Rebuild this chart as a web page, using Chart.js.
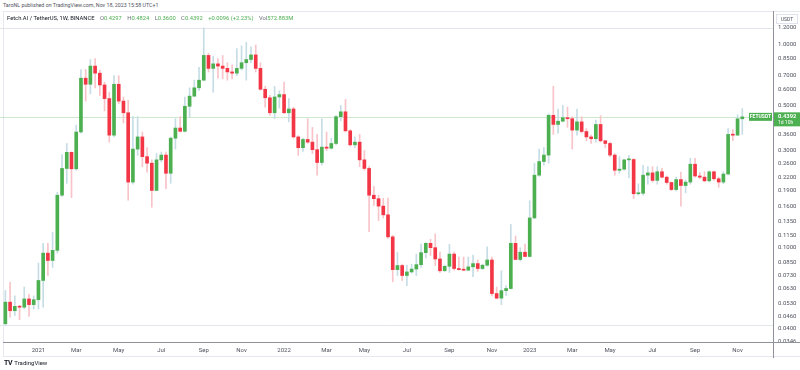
<!DOCTYPE html>
<html>
<head>
<meta charset="utf-8">
<script src="https://cdn.jsdelivr.net/npm/chart.js@4.4.1/dist/chart.umd.min.js"></script>
<style>
    html, body { margin: 0; padding: 0; background: #fff; }
    body { width: 800px; height: 370px; position: relative; overflow: hidden; font-family: Roboto, "Liberation Sans", sans-serif; }
    #hdr { position: absolute; left: 3px; top: 1.5px; font-size: 5.3px; color: #50535e; white-space: nowrap; }
    #frame { position: absolute; left: 3px; top: 11px; width: 797px; height: 346px; border: 1px solid #e6e8ee; border-right: none; box-sizing: border-box; }
    #legend { position: absolute; left: 7px; top: 15px; font-size: 5.8px; color: #131722; white-space: nowrap; }
    #legend .k { color: #6a6d78; margin-left: 4px; }
    #legend .v { color: #4caf50; }
    #logo { position: absolute; left: 4px; top: 359px; font-size: 6px; color: #131722; white-space: nowrap; }
    #logo b { font-size: 7px; letter-spacing: -0.5px; margin-right: 1px; }
    canvas { position: absolute; left: 0; top: 0; }
</style>
</head>
<body>
<div id="hdr">TaroNL published on TradingView.com, Nov 18, 2023 15:58 UTC+1</div>
<div id="frame"></div>
<canvas id="chart" width="800" height="370"></canvas>
<div id="legend">
    <span>Fetch.AI / TetherUS, 1W, BINANCE</span>
    <span class="k">O</span><span class="v" id="lgO"></span>
    <span class="k">H</span><span class="v" id="lgH"></span>
    <span class="k">L</span><span class="v" id="lgL"></span>
    <span class="k">C</span><span class="v" id="lgC"></span>
    <span class="v" id="lgChg" style="margin-left:4px"></span>
    <span class="k">Vol</span><span class="v" id="lgVol"></span>
</div>
<div id="logo"><b>TV</b> TradingView</div>
<script>
// weekly FET/USDT candles, first week starts Mon 16 Nov 2020
const FIRST_WEEK = Date.UTC(2020, 10, 16);
const FUTURE_WEEKS = 6;

const opens = [
    0.0423, 0.054, 0.049, 0.0515, 0.051, 0.056, 0.0525, 0.0555, 0.069, 0.094,
    0.0865, 0.097, 0.181, 0.245, 0.294, 0.244, 0.37, 0.68, 0.635, 0.78,
    0.72, 0.63, 0.54, 0.357, 0.635, 0.525, 0.46, 0.21, 0.305, 0.35,
    0.28, 0.26, 0.191, 0.27, 0.285, 0.232, 0.345, 0.387, 0.373, 0.495,
    0.555, 0.61, 0.665, 0.88, 0.76, 0.80, 0.78, 0.76, 0.73, 0.72,
    0.76, 0.81, 0.84, 0.885, 0.76, 0.60, 0.545, 0.46, 0.55, 0.565,
    0.46, 0.48, 0.35, 0.31, 0.34, 0.33, 0.303, 0.262, 0.312, 0.308,
    0.325, 0.44, 0.465, 0.375, 0.32, 0.33, 0.27, 0.245, 0.181, 0.174,
    0.16, 0.145, 0.113, 0.078, 0.0817, 0.073, 0.076, 0.0785, 0.0825, 0.0945,
    0.105, 0.10, 0.088, 0.077, 0.081, 0.093, 0.079, 0.078, 0.0775, 0.0805,
    0.0835, 0.079, 0.082, 0.087, 0.0595, 0.0565, 0.0615, 0.063, 0.105, 0.0875,
    0.095, 0.0905, 0.14, 0.227, 0.265, 0.285, 0.447, 0.403, 0.418, 0.435,
    0.43, 0.378, 0.415, 0.372, 0.35, 0.343, 0.403, 0.335, 0.325, 0.285,
    0.24, 0.243, 0.27, 0.271, 0.184, 0.185, 0.227, 0.233, 0.214, 0.236,
    0.222, 0.209, 0.193, 0.216, 0.202, 0.21, 0.257, 0.225, 0.222, 0.213,
    0.236, 0.218, 0.21, 0.23, 0.36, 0.357, 0.4297,
];
const highs = [
    0.0616, 0.0675, 0.058, 0.052, 0.064, 0.059, 0.058, 0.084, 0.105, 0.105,
    0.119, 0.187, 0.287, 0.325, 0.296, 0.40, 0.75, 0.75, 0.84, 0.85,
    0.745, 0.65, 0.58, 0.70, 0.70, 0.55, 0.53, 0.44, 0.44, 0.37,
    0.31, 0.27, 0.29, 0.295, 0.295, 0.35, 0.43, 0.44, 0.55, 0.61,
    0.665, 0.77, 1.2, 0.90, 0.87, 0.85, 0.88, 0.81, 0.79, 0.95,
    0.98, 1.02, 0.97, 0.99, 0.81, 0.62, 0.56, 0.62, 0.59, 0.65,
    0.54, 0.49, 0.355, 0.345, 0.43, 0.39, 0.36, 0.43, 0.37, 0.345,
    0.447, 0.50, 0.535, 0.38, 0.35, 0.36, 0.30, 0.25, 0.20, 0.181,
    0.175, 0.175, 0.115, 0.095, 0.083, 0.082, 0.083, 0.093, 0.104, 0.106,
    0.11, 0.117, 0.095, 0.082, 0.104, 0.095, 0.09, 0.09, 0.09, 0.092,
    0.087, 0.083, 0.101, 0.09, 0.064, 0.077, 0.0652, 0.13, 0.114, 0.10,
    0.104, 0.17, 0.26, 0.305, 0.31, 0.455, 0.62, 0.48, 0.50, 0.49,
    0.44, 0.48, 0.44, 0.385, 0.357, 0.423, 0.445, 0.337, 0.33, 0.29,
    0.28, 0.272, 0.284, 0.274, 0.206, 0.254, 0.25, 0.25, 0.25, 0.245,
    0.225, 0.21, 0.222, 0.235, 0.215, 0.275, 0.275, 0.234, 0.236, 0.238,
    0.238, 0.222, 0.236, 0.385, 0.38, 0.45, 0.4824,
];
const lows = [
    0.0415, 0.0455, 0.0464, 0.0443, 0.050, 0.046, 0.050, 0.050, 0.051, 0.073,
    0.080, 0.094, 0.178, 0.207, 0.176, 0.24, 0.365, 0.525, 0.57, 0.61,
    0.56, 0.47, 0.33, 0.35, 0.51, 0.41, 0.171, 0.205, 0.284, 0.25,
    0.235, 0.158, 0.19, 0.264, 0.195, 0.207, 0.305, 0.37, 0.37, 0.44,
    0.55, 0.59, 0.66, 0.73, 0.58, 0.68, 0.675, 0.665, 0.675, 0.70,
    0.745, 0.665, 0.81, 0.73, 0.594, 0.49, 0.447, 0.43, 0.485, 0.455,
    0.415, 0.345, 0.284, 0.297, 0.325, 0.29, 0.227, 0.254, 0.30, 0.305,
    0.32, 0.42, 0.37, 0.315, 0.31, 0.25, 0.24, 0.12, 0.161, 0.136,
    0.14, 0.111, 0.068, 0.073, 0.069, 0.065, 0.075, 0.073, 0.08, 0.089,
    0.0915, 0.0817, 0.0755, 0.0765, 0.0755, 0.0775, 0.0775, 0.077, 0.077, 0.072,
    0.0765, 0.078, 0.081, 0.058, 0.056, 0.0525, 0.0582, 0.0625, 0.087, 0.086,
    0.09, 0.09, 0.139, 0.224, 0.254, 0.26, 0.36, 0.365, 0.415, 0.39,
    0.305, 0.357, 0.365, 0.335, 0.325, 0.33, 0.33, 0.31, 0.28, 0.227,
    0.232, 0.24, 0.22, 0.174, 0.181, 0.181, 0.205, 0.21, 0.205, 0.22,
    0.205, 0.191, 0.19, 0.16, 0.186, 0.205, 0.222, 0.218, 0.21, 0.21,
    0.214, 0.198, 0.206, 0.228, 0.335, 0.357, 0.36,
];
const closes = [
    0.054, 0.049, 0.0515, 0.051, 0.056, 0.0525, 0.0555, 0.069, 0.094, 0.0865,
    0.097, 0.181, 0.245, 0.294, 0.244, 0.37, 0.68, 0.635, 0.78, 0.72,
    0.63, 0.54, 0.357, 0.635, 0.525, 0.46, 0.21, 0.305, 0.35, 0.28,
    0.26, 0.191, 0.27, 0.285, 0.232, 0.345, 0.387, 0.373, 0.495, 0.555,
    0.61, 0.665, 0.88, 0.76, 0.80, 0.78, 0.76, 0.73, 0.72, 0.76,
    0.81, 0.84, 0.885, 0.76, 0.60, 0.545, 0.46, 0.55, 0.565, 0.46,
    0.48, 0.35, 0.31, 0.34, 0.33, 0.303, 0.262, 0.312, 0.308, 0.325,
    0.44, 0.465, 0.375, 0.32, 0.33, 0.27, 0.245, 0.181, 0.174, 0.16,
    0.145, 0.113, 0.078, 0.0817, 0.073, 0.076, 0.0785, 0.0825, 0.0945, 0.105,
    0.10, 0.088, 0.077, 0.081, 0.093, 0.079, 0.078, 0.0775, 0.0805, 0.0835,
    0.079, 0.082, 0.087, 0.0595, 0.0565, 0.0615, 0.063, 0.105, 0.0875, 0.095,
    0.0905, 0.14, 0.227, 0.265, 0.285, 0.447, 0.403, 0.418, 0.435, 0.43,
    0.378, 0.415, 0.372, 0.35, 0.343, 0.403, 0.335, 0.325, 0.285, 0.24,
    0.243, 0.27, 0.271, 0.184, 0.185, 0.227, 0.233, 0.214, 0.236, 0.222,
    0.209, 0.193, 0.216, 0.202, 0.21, 0.257, 0.225, 0.222, 0.213, 0.236,
    0.218, 0.21, 0.23, 0.36, 0.357, 0.4296, 0.4392,
];

const lastVolume = '572.883M';
const barCountdown = '1d 10h';
const symbolName = 'FETUSDT';

const priceTicks = [1.2, 1.0, 0.85, 0.7, 0.6, 0.5, 0.36, 0.3, 0.26, 0.22, 0.19, 0.16,
    0.135, 0.115, 0.1, 0.085, 0.073, 0.063, 0.053, 0.046, 0.04, 0.0346];
const priceMin = 0.0344;
const priceMax = 1.438;
const guideLevels = [1.2, 0.0415];

const MONTHS = ['Jan', 'Feb', 'Mar', 'Apr', 'May', 'Jun', 'Jul', 'Aug', 'Sep', 'Oct', 'Nov', 'Dec'];

const UP = '#4caf50';
const DOWN = '#f23645';
const UP_WICK = '#c6dde6';
const DOWN_WICK = '#f8c3c9';

const weekDates = [];
for (let i = 0; i < opens.length + FUTURE_WEEKS; i++) weekDates.push(new Date(FIRST_WEEK + i * 7 * 864e5));
const weekLabels = weekDates.map((d) => d.toISOString().slice(0, 10));

const isUp = closes.map((c, i) => c >= opens[i]);
const bodies = opens.map((o, i) => [Math.min(o, closes[i]), Math.max(o, closes[i])]);
const wicks = lows.map((l, i) => [l, highs[i]]);

// legend values for the current week
const last = opens.length - 1;
const fmt = (v) => v.toFixed(4);
const chg = closes[last] - closes[last - 1];
const set = (id, v) => { document.getElementById(id).textContent = v; };
set('lgO', fmt(opens[last]));
set('lgH', fmt(highs[last]));
set('lgL', fmt(lows[last]));
set('lgC', fmt(closes[last]));
set('lgChg', `${chg >= 0 ? '+' : ''}${chg.toFixed(4)} (${chg >= 0 ? '+' : ''}${(chg / closes[last - 1] * 100).toFixed(2)}%)`);
set('lgVol', lastVolume);

const framePlugin = {
    id: 'tvFrame',
    beforeDatasetsDraw(chart) {
        const { ctx, chartArea: a, scales: { y } } = chart;
        ctx.save();
        ctx.lineWidth = 1;
        ctx.strokeStyle = '#e3e5eb';
        guideLevels.forEach((v) => {
            const py = Math.round(y.getPixelForValue(v)) + 0.5;
            ctx.beginPath(); ctx.moveTo(0, py); ctx.lineTo(a.right, py); ctx.stroke();
        });
        ctx.strokeStyle = 'rgba(76,175,80,0.28)';
        const lp = Math.round(y.getPixelForValue(closes[last])) + 0.5;
        ctx.beginPath(); ctx.moveTo(0, lp); ctx.lineTo(a.right, lp); ctx.stroke();
        ctx.restore();
    },
    afterDraw(chart) {
        const { ctx, chartArea: a, scales: { y }, width, height } = chart;
        ctx.save();
        ctx.lineWidth = 1;
        ctx.strokeStyle = '#8f929b';
        const bx = Math.round(a.right) + 0.5;
        ctx.beginPath(); ctx.moveTo(bx, 11); ctx.lineTo(bx, height - 12); ctx.stroke();
        const by = Math.round(a.bottom) + 0.5;
        ctx.beginPath(); ctx.moveTo(3, by); ctx.lineTo(width, by); ctx.stroke();

        // currency box on the price scale
        ctx.strokeStyle = '#e0e3eb';
        ctx.strokeRect(a.right + 3.5, 14.5, 21, 9);
        ctx.fillStyle = '#50535e';
        ctx.font = '5px Roboto';
        ctx.textAlign = 'center';
        ctx.textBaseline = 'middle';
        ctx.fillText('USDT', a.right + 14, 19.5);

        // last price labels
        const py = y.getPixelForValue(closes[last]);
        ctx.fillStyle = UP;
        ctx.fillRect(a.right - 24, py - 4, 23, 8);
        ctx.fillRect(a.right + 1, py - 4.5, width - a.right - 1, 14);
        ctx.fillStyle = '#fff';
        ctx.font = 'bold 5px Roboto';
        ctx.fillText(symbolName, a.right - 12.5, py + 0.3);
        ctx.textAlign = 'left';
        ctx.font = 'bold 5.8px Roboto';
        ctx.fillText(fmt(closes[last]), a.right + 5, py);
        ctx.font = '5px Roboto';
        ctx.fillText(barCountdown, a.right + 5, py + 6);
        ctx.restore();
    },
};

new Chart(document.getElementById('chart'), {
    type: 'bar',
    data: {
        labels: weekLabels,
        datasets: [
            {
                label: 'body',
                data: bodies,
                backgroundColor: isUp.map((u) => (u ? UP : DOWN)),
                barThickness: 3,
                minBarLength: 1,
                grouped: false,
                borderSkipped: false,
                order: 1,
            },
            {
                label: 'wick',
                data: wicks,
                backgroundColor: isUp.map((u) => (u ? UP_WICK : DOWN_WICK)),
                barThickness: 1,
                grouped: false,
                borderSkipped: false,
                order: 2,
            },
        ],
    },
    options: {
        responsive: false,
        animation: false,
        layout: { padding: { left: 3, top: 12, right: 0, bottom: 12 } },
        plugins: { legend: { display: false }, tooltip: { enabled: false } },
        scales: {
            x: {
                grid: { display: false, drawTicks: false },
                border: { display: false },
                ticks: {
                    autoSkip: false,
                    maxRotation: 0,
                    padding: 5,
                    color: '#50535e',
                    font: { family: 'Roboto', size: 6 },
                    callback(value, index) {
                        if (index === 0) return '';
                        const d = weekDates[index];
                        const m = d.getUTCMonth();
                        if (m === weekDates[index - 1].getUTCMonth() || m % 2) return '';
                        return m === 0 ? String(d.getUTCFullYear()) : MONTHS[m];
                    },
                },
                afterFit(s) { s.height = 16; s.paddingLeft = 0; s.paddingRight = 0; },
            },
            y: {
                type: 'logarithmic',
                position: 'right',
                min: priceMin,
                max: priceMax,
                grid: { display: false, drawTicks: false },
                border: { display: false },
                afterBuildTicks(s) { s.ticks = priceTicks.map((v) => ({ value: v })); },
                ticks: {
                    autoSkip: false,
                    padding: 5,
                    color: '#50535e',
                    font: { family: 'Roboto', size: 6 },
                    callback: (v) => Number(v).toFixed(4),
                },
                afterFit(s) { s.width = 27; s.paddingTop = 0; s.paddingBottom = 0; },
            },
        },
    },
    plugins: [framePlugin],
});
</script>
</body>
</html>
